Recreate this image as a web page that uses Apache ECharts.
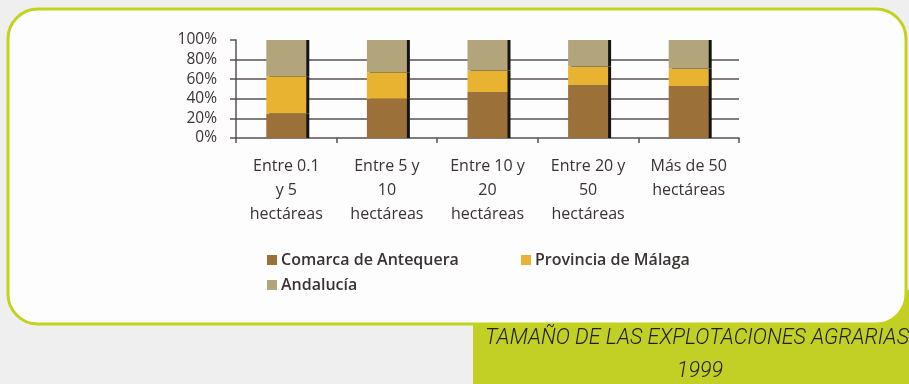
<!DOCTYPE html>
<html>
<head>
<meta charset="utf-8">
<script src="https://cdn.jsdelivr.net/npm/echarts@6/dist/echarts.min.js"></script>
<style>
  html, body { margin: 0; padding: 0; background: #efefef; }
  #chart { width: 909px; height: 384px; }
</style>
</head>
<body>
<div id="chart"></div>
<script>
// Farm size classes (category axis)
const categories = [
  'Entre 0.1\ny 5\nhectáreas',
  'Entre 5 y\n10\nhectáreas',
  'Entre 10 y\n20\nhectáreas',
  'Entre 20 y\n50\nhectáreas',
  'Más de 50\nhectáreas'
];

// Share of each territory per size class (percent, stacked to 100)
const comarcaAntequera = [25, 40, 47, 54, 53];
const provinciaMalaga  = [38, 27, 22, 19, 18];
const andalucia        = [37, 33, 31, 27, 29];

const yTicks = [0, 20, 40, 60, 80, 100];

const seriesNames = ['Comarca de Antequera', 'Provincia de Málaga', 'Andalucía'];
const seriesColors = ['#9c7039', '#e8b331', '#b3a57b'];
const seriesData = [comarcaAntequera, provinciaMalaga, andalucia];

const chart = echarts.init(document.getElementById('chart'), null, { renderer: 'canvas' });

const textColor = '#3b3232';
const lineColor = '#5a5050';
const fontFamily = '"Open Sans", "Noto Sans", sans-serif';
const captionFont = 'italic 300 21.5px Roboto, "Open Sans", sans-serif';

const option = {
  backgroundColor: '#efefef',
  animation: false,
  graphic: [
    // green caption band behind the panel
    { type: 'rect', z: -20, shape: { x: 473, y: 290, width: 436, height: 94 },
      style: { fill: '#c2d025' } },
    // white rounded panel
    { type: 'rect', z: -10, shape: { x: 8, y: 9, width: 898, height: 315, r: 30 },
      style: { fill: '#fdfdfd', stroke: '#c3d21d', lineWidth: 3 } },
    { type: 'text', z: 10, x: 697, y: 339,
      style: { text: 'TAMAÑO DE LAS EXPLOTACIONES AGRARIAS', fill: '#1f1f1f',
               font: captionFont, textAlign: 'center', textVerticalAlign: 'middle' } },
    { type: 'text', z: 10, x: 700, y: 372,
      style: { text: '1999', fill: '#1f1f1f',
               font: captionFont, textAlign: 'center', textVerticalAlign: 'middle' } }
  ],
  legend: [
    {
      data: [seriesNames[0], seriesNames[2]],
      orient: 'vertical',
      left: 262, top: 247,
      itemWidth: 10, itemHeight: 10, itemGap: 9,
      icon: 'rect',
      textStyle: { color: textColor, fontSize: 16, fontWeight: 600, fontFamily: fontFamily, padding: [0, 0, 0, -1] }
    },
    {
      data: [seriesNames[1]],
      orient: 'vertical',
      left: 516, top: 247,
      itemWidth: 10, itemHeight: 10,
      icon: 'rect',
      textStyle: { color: textColor, fontSize: 16, fontWeight: 600, fontFamily: fontFamily, padding: [0, 0, 0, -1] }
    }
  ],
  grid: { left: 236, right: 170, top: 40, bottom: 246, containLabel: false },
  xAxis: {
    type: 'category',
    data: categories,
    axisLine: { lineStyle: { color: lineColor, width: 1.5 } },
    axisTick: { show: true, length: 5, lineStyle: { color: lineColor, width: 1.5 } },
    axisLabel: { color: textColor, fontSize: 16, lineHeight: 24, fontFamily: fontFamily, margin: 16, interval: 0 }
  },
  yAxis: {
    type: 'value',
    min: 0, max: 100, interval: 20,
    axisLine: { show: true, lineStyle: { color: lineColor, width: 1.5 } },
    axisTick: { show: true, length: 6, lineStyle: { color: lineColor, width: 1.5 } },
    splitLine: { show: true, showMinLine: false, showMaxLine: false, lineStyle: { color: lineColor, width: 1.5 } },
    axisLabel: {
      color: textColor, fontSize: 15.5, fontFamily: fontFamily, margin: 19,
      formatter: function (v) { return yTicks.indexOf(v) >= 0 ? v + '%' : ''; }
    }
  },
  series: seriesNames.map(function (name, i) {
    return {
      name: name,
      type: 'bar',
      stack: 'total',
      barWidth: 40,
      data: seriesData[i],
      itemStyle: {
        color: seriesColors[i],
        shadowColor: '#141414',
        shadowOffsetX: 3,
        shadowOffsetY: 0,
        shadowBlur: 0
      }
    };
  })
};

chart.setOption(option);
</script>
</body>
</html>
